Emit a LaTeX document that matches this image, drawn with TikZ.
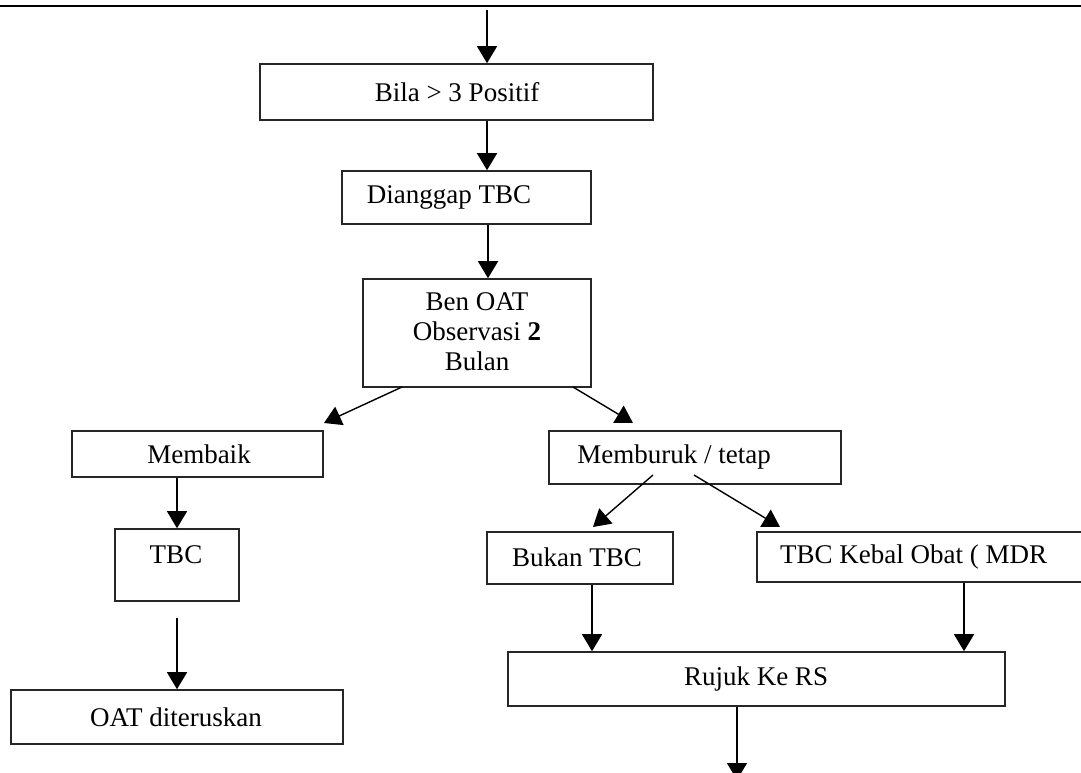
\documentclass[tikz,border=0pt]{standalone}
\usepackage{fontspec}
\setmainfont{Liberation Serif}
\usetikzlibrary{arrows.meta}
\begin{document}
\begin{tikzpicture}[x=1pt,y=-1pt,
  box/.style={draw=black!85,line width=1.6pt,rectangle,inner sep=0pt},
  txt/.style={inner sep=0pt,font=\fontsize{27}{30}\selectfont,align=center},
  arr/.style={line width=1.4pt,-{Triangle[width=20pt,length=17pt]}}]
\useasboundingbox (0,0) rectangle (1081,773);
\clip (0,0) rectangle (1081,773);
% top rule
\coordinate (ruleL) at (0,6);
\coordinate (ruleR) at (1081,6);
\draw[line width=2.2pt] (ruleL) -- (ruleR);
% boxes
\node[box,minimum width=393pt,minimum height=56pt] (b1) at (456.5,92) {};
\node[txt] (t1) at (457,92) {Bila > 3 Positif};
\node[box,minimum width=249pt,minimum height=53pt] (b2) at (466.5,197.5) {};
\node[txt] (t2) at (449,197) {Dianggap TBC};
\node[box,minimum width=228pt,minimum height=108pt] (b3) at (477,333) {};
\node[txt] (t3) at (477,332) {Ben OAT\\Observasi \textbf{2}\\Bulan};
\node[box,minimum width=251pt,minimum height=46pt] (b4) at (197.5,454) {};
\node[txt] (t4) at (199,454) {Membaik};
\node[box,minimum width=124pt,minimum height=72pt] (b5) at (177,565) {};
\node[txt] (t5) at (176,555) {TBC};
\node[box,minimum width=332pt,minimum height=54pt] (b6) at (177,717) {};
\node[txt] (t6) at (176,717) {OAT diteruskan};
\node[box,minimum width=292pt,minimum height=53pt] (b7) at (695,457.5) {};
\node[txt] (t7) at (674,457) {Memburuk / tetap};
\node[box,minimum width=186pt,minimum height=52pt] (b8) at (580,558) {};
\node[txt] (t8) at (577,557) {Bukan TBC};
\node[box,minimum width=343pt,minimum height=50pt] (b9) at (928.5,557) {};
\node[txt,anchor=west] (t9) at (780,557) {TBC Kebal Obat ( MDR};
\node[box,minimum width=497pt,minimum height=54pt] (b10) at (756.5,679) {};
\node[txt] (t10) at (756,679) {Rujuk Ke RS};
% free ends
\coordinate (top) at (487,10);
\coordinate (s3a) at (402,387);
\coordinate (e3a) at (324,423);
\coordinate (s3b) at (573,387);
\coordinate (e3b) at (633,423);
\coordinate (s5) at (177,618);
\coordinate (s7a) at (653,475);
\coordinate (e7a) at (593,527);
\coordinate (s7b) at (694,475);
\coordinate (e7b) at (780,527);
\coordinate (bot) at (737,780);
% connectors
\draw[arr] (top) -- (top |- b1.north);
\draw[arr] (top |- b1.south) -- (top |- b2.north);
\draw[arr] (488,0 |- b2.south) -- (488,0 |- b3.north);
\draw[arr] (s3a) -- (e3a);
\draw[arr] (s3b) -- (e3b);
\draw[arr] (b5.north |- b4.south) -- (b5.north);
\draw[arr] (s5) -- (s5 |- b6.north);
\draw[arr] (s7a) -- (e7a);
\draw[arr] (s7b) -- (e7b);
\draw[arr] (592,0 |- b8.south) -- (592,0 |- b10.north);
\draw[arr] (964,0 |- b9.south) -- (964,0 |- b10.north);
\draw[arr] (bot |- b10.south) -- (bot);
\end{tikzpicture}
\end{document}
